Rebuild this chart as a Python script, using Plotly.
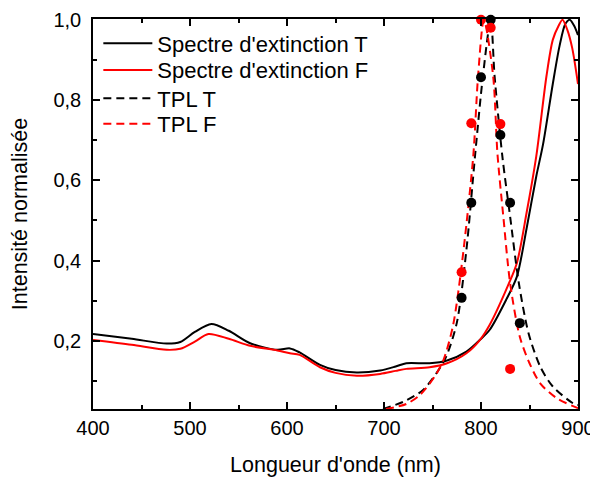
import plotly.graph_objects as go

# Extinction spectrum T (black)
ext_t_x = [400, 440, 476, 490, 505, 522, 540, 562, 590, 603, 613, 634, 650, 672, 696, 712, 723, 747, 765, 785, 799, 809, 826, 837, 847, 857, 864, 874, 881, 887, 891.5, 896, 900]
ext_t_y = [0.217, 0.205, 0.193, 0.197, 0.222, 0.242, 0.225, 0.194, 0.1775, 0.181, 0.171, 0.14, 0.127, 0.121, 0.126, 0.136, 0.144, 0.144, 0.151, 0.173, 0.2025, 0.2275, 0.3025, 0.36, 0.48, 0.61, 0.69, 0.84, 0.935, 0.99, 1.0, 0.985, 0.962]

# Extinction spectrum F (red)
ext_f_x = [400, 440, 476, 490, 505, 519, 540, 562, 590, 603, 613, 634, 650, 672, 696, 712, 723, 747, 765, 785, 799, 809, 826, 837, 847, 857, 867.5, 874, 880, 884, 889, 894, 900]
ext_f_y = [0.202, 0.19, 0.1775, 0.18, 0.198, 0.217, 0.205, 0.1875, 0.176, 0.169, 0.165, 0.134, 0.12, 0.113, 0.1175, 0.125, 0.13, 0.134, 0.144, 0.169, 0.2025, 0.24, 0.3275, 0.394, 0.519, 0.66, 0.86, 0.95, 0.985, 1.0, 0.975, 0.93, 0.84]

# TPL T fit (black dashed)
tpl_t_x = [699, 720, 740, 754, 764, 775, 785, 794, 802, 810, 814, 822, 830, 839, 849, 861, 874, 895, 900]
tpl_t_y = [0.03, 0.048, 0.077, 0.119, 0.16, 0.244, 0.4275, 0.665, 0.86, 1.0, 0.86, 0.66, 0.51, 0.344, 0.219, 0.136, 0.086, 0.044, 0.04]

# TPL F fit (red dashed)
tpl_f_x = [702, 723, 737, 752, 761, 771, 780, 792, 797, 803, 812.5, 817, 823, 830, 840, 850, 861, 878, 898, 900]
tpl_f_y = [0.03, 0.0425, 0.065, 0.11, 0.15, 0.236, 0.386, 0.66, 0.86, 1.0, 0.86, 0.665, 0.51, 0.344, 0.21, 0.144, 0.094, 0.057, 0.034, 0.032]

# TPL measured points
pts_t_x = [780, 790, 800, 810, 820, 830, 840]
pts_t_y = [0.307, 0.544, 0.857, 1.0, 0.713, 0.544, 0.244]
pts_f_x = [780, 790, 800, 810, 820, 830]
pts_f_y = [0.371, 0.742, 1.0, 0.98, 0.74, 0.13]

y_ticks = [0.2, 0.4, 0.6, 0.8, 1.0]
y_ticktext = ["0,2", "0,4", "0,6", "0,8", "1,0"]
x_ticks = [400, 500, 600, 700, 800, 900]

FONT = "Liberation Sans, Arial, sans-serif"
DASH = "8px,5px"

fig = go.Figure()
fig.add_trace(go.Scatter(x=ext_t_x, y=ext_t_y, mode="lines", name="Spectre d'extinction T", legend="legend",
                         line=dict(color="black", width=2, shape="spline", smoothing=0.8)))
fig.add_trace(go.Scatter(x=ext_f_x, y=ext_f_y, mode="lines", name="Spectre d'extinction F", legend="legend2",
                         line=dict(color="red", width=2, shape="spline", smoothing=0.8)))
fig.add_trace(go.Scatter(x=tpl_t_x, y=tpl_t_y, mode="lines", name="TPL T", legend="legend3",
                         line=dict(color="black", width=2, dash=DASH, shape="spline", smoothing=0.8)))
fig.add_trace(go.Scatter(x=tpl_f_x, y=tpl_f_y, mode="lines", name="TPL F", legend="legend4",
                         line=dict(color="red", width=2, dash=DASH, shape="spline", smoothing=0.8)))
fig.add_trace(go.Scatter(x=pts_t_x, y=pts_t_y, mode="markers", showlegend=False,
                         marker=dict(color="black", size=10), cliponaxis=False))
fig.add_trace(go.Scatter(x=pts_f_x, y=pts_f_y, mode="markers", showlegend=False,
                         marker=dict(color="red", size=10), cliponaxis=False))

axis_common = dict(showline=True, linecolor="black", linewidth=1.5, mirror="ticks",
                   ticks="inside", ticklen=7, tickwidth=1.5, tickcolor="black",
                   showgrid=False, zeroline=False, ticklabeloverflow="allow",
                   tickfont=dict(family=FONT, size=20, color="black"))

fig.update_xaxes(range=[400, 900], tickvals=x_ticks, ticklabelstandoff=0,
                 minor=dict(tickvals=[450, 550, 650, 750, 850], ticks="inside", ticklen=4,
                            tickwidth=1.5, tickcolor="black"),
                 title=dict(text="Longueur d'onde (nm)", font=dict(family=FONT, size=21.5, color="black"),
                            standoff=19),
                 **axis_common)
fig.update_yaxes(range=[0.03, 1.002], tickvals=y_ticks, ticktext=y_ticktext, ticklabelstandoff=6,
                 minor=dict(tickvals=[0.1, 0.3, 0.5, 0.7, 0.9], ticks="inside", ticklen=4,
                            tickwidth=1.5, tickcolor="black"),
                 title=dict(text="Intensité normalisée", font=dict(family=FONT, size=21.5, color="black"),
                            standoff=30),
                 **axis_common)

leg_common = dict(x=0.011, xanchor="left", yanchor="middle", itemwidth=49,
                  bgcolor="rgba(0,0,0,0)", borderwidth=0,
                  font=dict(family=FONT, size=22, color="black"))

# page body has an 8px margin, so the figure is drawn 8px in from the top-left
fig.update_layout(
    width=590, height=469,
    margin=dict(l=85, r=20, t=11, b=68, autoexpand=False),
    plot_bgcolor="white", paper_bgcolor="white",
    font=dict(family=FONT, color="black"),
    legend=dict(y=0.937, **leg_common),
    legend2=dict(y=0.869, **leg_common),
    legend3=dict(y=0.796, **leg_common),
    legend4=dict(y=0.731, **leg_common),
)

fig.write_html("out.html")
